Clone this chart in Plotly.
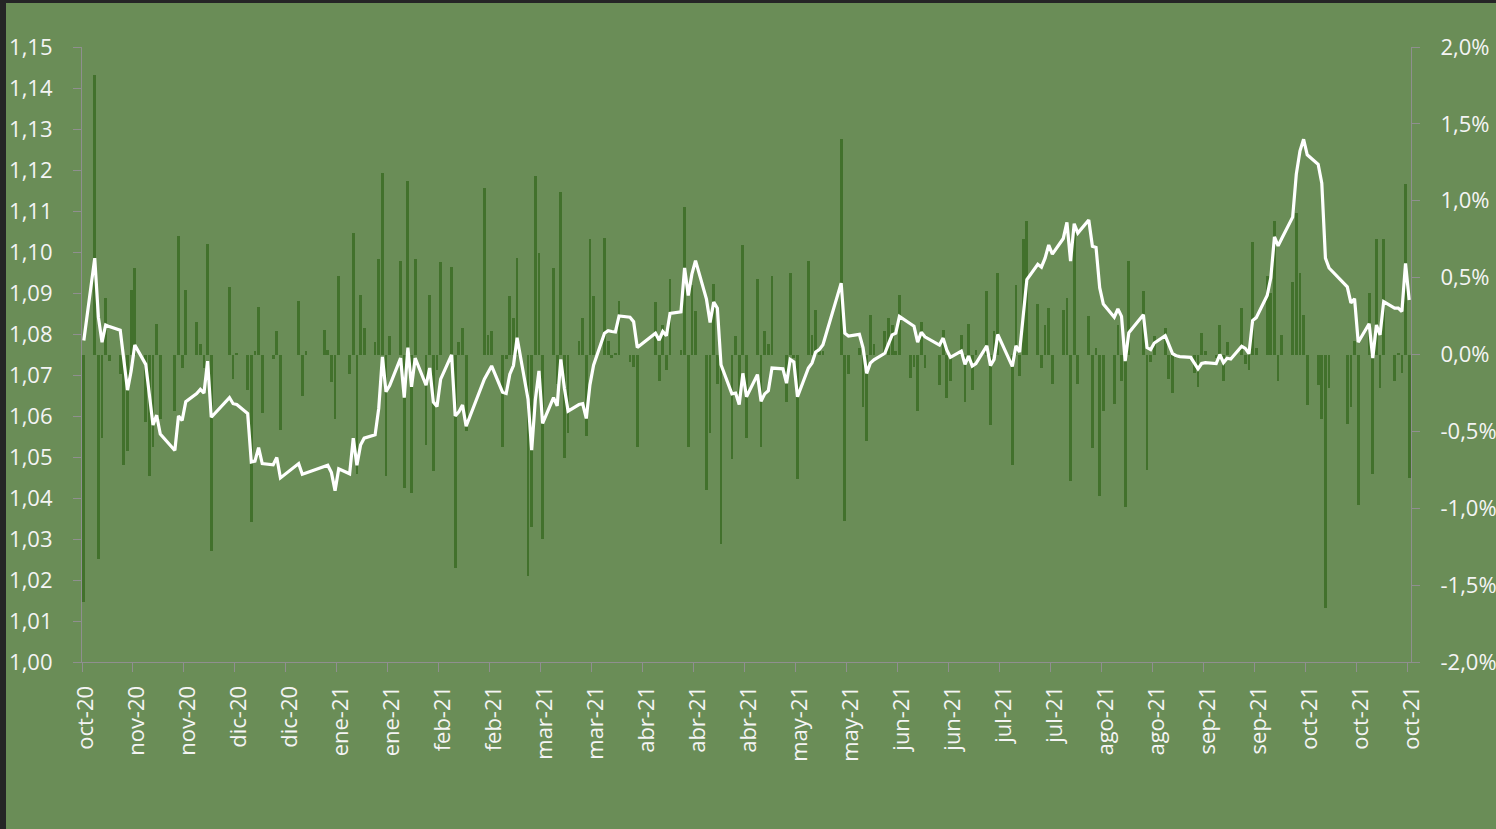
import pandas as pd
import plotly.graph_objects as go

# Business days from 30-oct-2020 to 29-oct-2021 (first entry = Friday 30-oct-2020, then Mon..Fri weeks)
start_date = "2020-10-30"
end_date = "2021-10-29"

# Daily change (%) - right axis (bars); None = no quote that day
daily_change_pct = [
    -1.61,
    1.82, -1.33, -0.54, 0.37, -0.04,
    -0.13, -0.72, -0.63, 0.42, 0.56,
    -0.44, -0.79, -0.60, 0.20, -0.42,
    None, -0.37, 0.77, -0.09, 0.42,
    0.21, 0.07, -0.09, 0.72, -1.28,
    None, None, 0.44, -0.16, 0.01,
    -0.23, -1.09, 0.02, 0.31, -0.38,
    -0.03, 0.15, -0.49, None, None,
    0.35, -0.27, 0.02, None, None,
    0.16, 0.03, -0.18, -0.42, 0.51,
    -0.13, 0.79, -0.78, 0.39, 0.17,
    0.08, 0.62, 1.18, -0.79, 0.12,
    0.61, -0.87, 1.13, -0.90, 0.62,
    -0.59, 0.39, -0.76, -0.10, 0.60,
    0.57, -1.39, 0.08, 0.17, -0.50,
    None, None, 1.08, 0.13, 0.15,
    -0.60, -0.03, 0.38, 0.24, 0.63,
    -1.44, -1.12, 1.16, 0.66, -1.20,
    0.56, -0.19, 1.06, -0.67, -0.51,
    0.09, 0.24, -0.53, 0.75, 0.38,
    0.76, 0.09, -0.02, 0.01, 0.35,
    -0.05, -0.08, -0.60, None, None,
    0.34, -0.17, 0.19, -0.10, 0.49,
    0.03, 0.96, -0.60, 0.45, 0.28,
    -0.88, -0.51, 0.46, -0.19, -1.23,
    -0.68, 0.12, -0.26, 0.71, -0.54,
    0.49, -0.60, 0.15, 0.07, 0.51,
    0.00, -0.31, 0.53, -0.02, -0.81,
    0.61, 0.13, 0.29, 0.03, 0.02,
    None, None, 1.40, -1.08, -0.13,
    0.04, -0.34, -0.56, 0.26, 0.07,
    0.15, 0.24, 0.19, 0.02, 0.39,
    -0.15, -0.08, -0.37, 0.21, -0.09,
    None, -0.20, 0.16, -0.28, -0.17,
    0.13, -0.31, 0.20, -0.23, 0.03,
    0.41, -0.46, 0.15, 0.53, None,
    -0.72, 0.45, -0.14, 0.75, 0.87,
    0.33, -0.09, 0.19, 0.30, -0.19,
    0.29, 0.37, -0.82, 0.79, -0.19,
    0.25, -0.61, 0.04, -0.92, -0.37,
    -0.32, 0.19, -0.17, -0.99, 0.61,
    None, 0.41, -0.75, -0.05, 0.12,
    0.17, -0.16, -0.25, -0.02, 0.00,
    0.00, -0.12, -0.21, 0.14, 0.02,
    -0.02, 0.19, -0.17, 0.08, 0.00,
    0.30, -0.06, -0.10, 0.73, 0.04,
    0.51, 0.40, 0.87, -0.17, 0.13,
    0.47, 0.92, 0.53, 0.26, -0.33,
    -0.20, -0.42, -1.65, -0.22, None,
    None, -0.45, -0.34, 0.09, -0.98,
    0.40, -0.78, 0.75, -0.22, 0.75,
    -0.17, 0.01, -0.12, 1.11, -0.80,
]

# Exchange rate - left axis (white line)
rate = [
    1.0784,
    1.0985, 1.0841, 1.0780, 1.0822, 1.0818,
    1.0809, 1.0735, 1.0663, 1.0710, 1.0773,
    1.0726, 1.0645, 1.0578, 1.0602, 1.0556,
    None, 1.0516, 1.0600, 1.0589, 1.0635,
    1.0655, 1.0665, 1.0656, 1.0734, 1.0597,
    None, None, 1.0645, 1.0630, 1.0628,
    1.0606, 1.0488, 1.0490, 1.0523, 1.0484,
    1.0481, 1.0499, 1.0449, None, None,
    1.0484, 1.0458, 1.0461, None, None,
    1.0477, 1.0480, 1.0462, 1.0418, 1.0471,
    1.0459, 1.0546, 1.0480, 1.0529, 1.0546,
    1.0554, 1.0619, 1.0744, 1.0659, 1.0674,
    1.0741, 1.0645, 1.0767, 1.0671, 1.0741,
    1.0675, 1.0717, 1.0634, 1.0623, 1.0690,
    1.0749, 1.0600, 1.0610, 1.0627, 1.0575,
    None, None, 1.0690, 1.0705, 1.0722,
    1.0658, 1.0655, 1.0702, 1.0723, 1.0791,
    1.0641, 1.0517, 1.0639, 1.0710, 1.0582,
    1.0645, 1.0625, 1.0738, 1.0667, 1.0612,
    1.0628, 1.0630, 1.0594, 1.0676, 1.0724,
    1.0802, 1.0808, 1.0806, 1.0805, 1.0844,
    1.0841, 1.0830, 1.0767, None, None,
    1.0802, 1.0785, 1.0806, 1.0796, 1.0850,
    1.0854, 1.0961, 1.0894, 1.0946, 1.0979,
    1.0885, 1.0828, 1.0878, 1.0863, 1.0725,
    1.0654, 1.0656, 1.0628, 1.0704, 1.0647,
    1.0701, 1.0636, 1.0654, 1.0662, 1.0717,
    1.0715, 1.0680, 1.0738, 1.0732, 1.0647,
    1.0717, 1.0729, 1.0756, 1.0762, 1.0774,
    None, None, 1.0924, 1.0802, 1.0795,
    1.0799, 1.0767, 1.0704, 1.0729, 1.0737,
    1.0753, 1.0776, 1.0798, 1.0802, 1.0843,
    1.0825, 1.0819, 1.0780, 1.0804, 1.0793,
    None, 1.0773, 1.0790, 1.0761, 1.0743,
    1.0758, 1.0726, 1.0746, 1.0722, 1.0728,
    1.0771, 1.0723, 1.0738, 1.0799, None,
    1.0721, 1.0771, 1.0756, 1.0837, 1.0933,
    1.0970, 1.0963, 1.0985, 1.1017, 1.0995,
    1.1033, 1.1072, 1.0978, 1.1069, 1.1046,
    1.1078, 1.1014, 1.1011, 1.0913, 1.0873,
    1.0841, 1.0861, 1.0843, 1.0734, 1.0803,
    None, 1.0847, 1.0767, 1.0762, 1.0778,
    1.0796, 1.0774, 1.0752, 1.0747, 1.0745,
    1.0743, 1.0730, 1.0715, 1.0728, 1.0730,
    1.0728, 1.0750, 1.0730, 1.0741, 1.0739,
    1.0770, 1.0765, 1.0752, 1.0833, 1.0840,
    1.0894, 1.0937, 1.1037, 1.1015, 1.1033,
    1.1085, 1.1190, 1.1246, 1.1275, 1.1237,
    1.1214, 1.1168, 1.0985, 1.0961, None,
    None, 1.0915, 1.0876, 1.0886, 1.0780,
    1.0825, 1.0741, 1.0822, 1.0798, 1.0879,
    1.0863, 1.0863, 1.0855, 1.0972, 1.0883,
]

# Axis ticks
x_tick_labels = ["oct-20", "nov-20", "nov-20", "dic-20", "dic-20", "ene-21", "ene-21",
                 "feb-21", "feb-21", "mar-21", "mar-21", "abr-21", "abr-21", "abr-21",
                 "may-21", "may-21", "jun-21", "jun-21", "jul-21", "jul-21", "ago-21",
                 "ago-21", "sep-21", "sep-21", "oct-21", "oct-21", "oct-21"]
left_tick_vals = [1.00, 1.01, 1.02, 1.03, 1.04, 1.05, 1.06, 1.07, 1.08, 1.09, 1.10,
                  1.11, 1.12, 1.13, 1.14, 1.15]
left_tick_text = ["1,00", "1,01", "1,02", "1,03", "1,04", "1,05", "1,06", "1,07", "1,08",
                  "1,09", "1,10", "1,11", "1,12", "1,13", "1,14", "1,15"]
right_tick_vals = [-0.020, -0.015, -0.010, -0.005, 0.0, 0.005, 0.010, 0.015, 0.020]
right_tick_text = ["-2,0%", "-1,5%", "-1,0%", "-0,5%", "0,0%", "0,5%", "1,0%", "1,5%", "2,0%"]

# ---------------------------------------------------------------
dates = pd.bdate_range(start_date, end_date)
x_mid = dates + pd.Timedelta(hours=12)
bar_frac = [None if v is None else v / 100 for v in daily_change_pct]
tick_dates = pd.date_range(start_date, periods=len(x_tick_labels), freq="14D")

BG = "#6a8d57"
BAR = "#42712c"
AXIS = "#8f8f8f"
TXT = "#f4f4f4"
FONT = dict(family="Open Sans", size=22, color=TXT)

fig = go.Figure()
fig.add_trace(go.Bar(x=x_mid, y=bar_frac, yaxis="y", marker=dict(color=BAR, line=dict(width=0)),
                     width=0.76 * 86400000, showlegend=False, hoverinfo="skip"))
fig.add_trace(go.Scatter(x=x_mid, y=rate, yaxis="y2", mode="lines", connectgaps=True,
                         line=dict(color="#ffffff", width=3.2), showlegend=False))

fig.update_layout(
    width=1490, height=826,
    margin=dict(l=76, r=85, t=44, b=167, pad=0, autoexpand=False),
    paper_bgcolor=BG, plot_bgcolor=BG,
    font=FONT,
    bargap=0,
    xaxis=dict(type="date", range=[start_date, "2021-10-30"], showgrid=False, zeroline=False,
               automargin=False,
               showline=True, linecolor=AXIS, linewidth=1.2, ticks="outside", ticklen=9,
               tickcolor=AXIS, tickwidth=1.2, tickvals=tick_dates, ticktext=x_tick_labels,
               tickangle=-90, tickfont=FONT, ticklabelstandoff=5, ticklabelshift=4),
    yaxis=dict(side="right", range=[-0.02, 0.02], showgrid=False, zeroline=False,
               automargin=False,
               showline=True, linecolor=AXIS, linewidth=1.2, ticks="outside", ticklen=8,
               tickcolor=AXIS, tickwidth=1.2, tickvals=right_tick_vals, ticktext=right_tick_text,
               tickfont=FONT, ticklabelstandoff=16),
    yaxis2=dict(side="left", overlaying="y", range=[1.0, 1.15], showgrid=False, zeroline=False,
                automargin=False,
                showline=True, linecolor=AXIS, linewidth=1.2, ticks="outside", ticklen=8,
                tickcolor=AXIS, tickwidth=1.2, tickvals=left_tick_vals, ticktext=left_tick_text,
                tickfont=FONT, ticklabelstandoff=16),
)

post = ("document.body.style.margin='0';document.body.style.padding='3px 0 0 6px';"
        "document.body.style.background='#252526';document.body.style.overflow='hidden';"
        "document.documentElement.style.background='#252526';")
fig.write_html("out.html", post_script=post)
